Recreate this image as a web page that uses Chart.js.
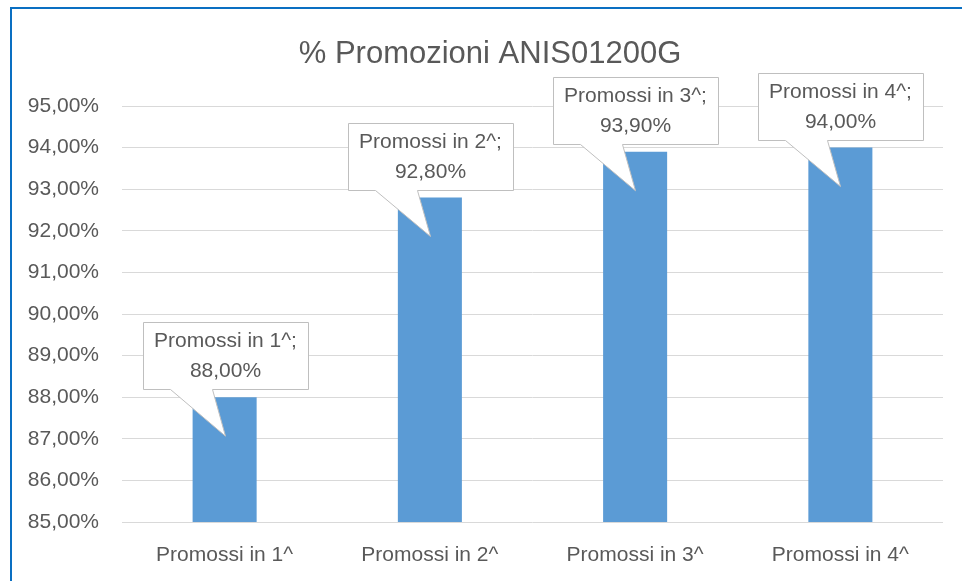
<!DOCTYPE html>
<html>
<head>
<meta charset="utf-8">
<script src="https://cdn.jsdelivr.net/npm/chart.js@4.4.1/dist/chart.umd.min.js"></script>
<style>
  html, body { margin: 0; padding: 0; background: #fff; overflow: hidden; }
  #wrap { position: relative; width: 962px; height: 581px; overflow: hidden; }
  #frame {
    position: absolute; left: 10px; top: 7px; width: 2000px; height: 2000px;
    border: 2px solid #0A6FC2; box-sizing: border-box;
  }
  canvas { position: absolute; left: 0; top: 0; }
</style>
</head>
<body>
<div id="wrap">
  <div id="frame"></div>
  <canvas id="promoChart" width="962" height="581"></canvas>
</div>
<script>
// chart data
const chartTitle = '% Promozioni ANIS01200G';
const categories = ['Promossi in 1^', 'Promossi in 2^', 'Promossi in 3^', 'Promossi in 4^'];
const promossi = [88.0, 92.8, 93.9, 94.0];
const yMin = 85;
const yMax = 95;

const FONT = '"Liberation Sans", Arial, sans-serif';
const TEXT_COLOR = '#595959';

function fmtPct(v) {
    return v.toFixed(2).replace('.', ',') + '%';
}

// title drawn centred on the outer frame, like Excel does
const titlePlugin = {
    id: 'frameTitle',
    afterDraw(chart) {
        const ctx = chart.ctx;
        ctx.save();
        ctx.font = '31px ' + FONT;
        ctx.fillStyle = TEXT_COLOR;
        ctx.textAlign = 'center';
        ctx.textBaseline = 'middle';
        ctx.fillText(chartTitle, 490, 54);
        ctx.restore();
    }
};

// Excel-style callout data labels
const calloutPlugin = {
    id: 'callouts',
    afterDatasetsDraw(chart) {
        const ctx = chart.ctx;
        const meta = chart.getDatasetMeta(0);
        ctx.save();
        ctx.font = '21px ' + FONT;
        meta.data.forEach((bar, i) => {
            const line1 = categories[i] + ';';
            const line2 = fmtPct(promossi[i]);
            const w = Math.round(Math.max(ctx.measureText(line1).width, ctx.measureText(line2).width) + 22);
            const h = 67;
            const x = Math.round(bar.x) + 0.5;
            const barTop = bar.y;
            const left = Math.round(x - w / 2) + 0.5;
            const bottom = Math.round(barTop - 8) + 0.5;
            const top = bottom - h;

            ctx.beginPath();
            ctx.moveTo(left, top);
            ctx.lineTo(left + w, top);
            ctx.lineTo(left + w, bottom);
            ctx.lineTo(x - 13, bottom);
            ctx.lineTo(x, barTop + 39);
            ctx.lineTo(x - 55, bottom);
            ctx.lineTo(left, bottom);
            ctx.closePath();
            ctx.fillStyle = '#ffffff';
            ctx.fill();
            ctx.strokeStyle = '#BFBFBF';
            ctx.lineWidth = 1;
            ctx.stroke();

            ctx.fillStyle = TEXT_COLOR;
            ctx.textAlign = 'center';
            ctx.textBaseline = 'middle';
            ctx.fillText(line1, x, top + 19);
            ctx.fillText(line2, x, top + 49);
        });
        ctx.restore();
    }
};

new Chart(document.getElementById('promoChart'), {
    type: 'bar',
    data: {
        labels: categories,
        datasets: [{
            data: promossi,
            backgroundColor: '#5B9BD5',
            borderWidth: 0,
            barPercentage: 0.312,
            categoryPercentage: 1.0
        }]
    },
    options: {
        responsive: false,
        animation: false,
        layout: {
            padding: { top: 106, left: 0, right: 19, bottom: 0 }
        },
        plugins: {
            legend: { display: false },
            title: { display: false },
            tooltip: { enabled: false }
        },
        scales: {
            x: {
                grid: { display: false, drawTicks: false },
                border: { display: false },
                ticks: {
                    color: TEXT_COLOR,
                    font: { family: FONT, size: 21 },
                    padding: 21,
                    maxRotation: 0
                },
                afterFit(scale) { scale.height = 59; }
            },
            y: {
                min: yMin,
                max: yMax,
                grid: { color: '#D9D9D9', lineWidth: 1, drawTicks: false },
                border: { display: false },
                ticks: {
                    stepSize: 1,
                    color: TEXT_COLOR,
                    font: { family: FONT, size: 21 },
                    padding: 23,
                    callback: v => fmtPct(v)
                },
                afterFit(scale) { scale.width = 122; }
            }
        }
    },
    plugins: [calloutPlugin, titlePlugin]
});
</script>
</body>
</html>
